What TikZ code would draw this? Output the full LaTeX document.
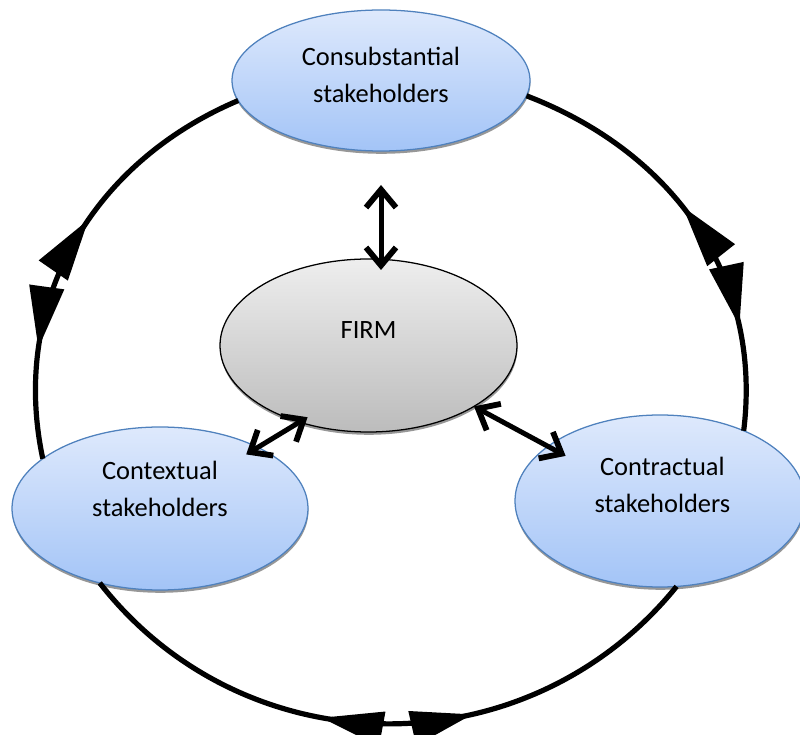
\documentclass[tikz,border=0pt]{standalone}
\usepackage{fontspec}
\setmainfont{Carlito}
\usepackage{tikz}
\usetikzlibrary{arrows.meta, decorations.markings, shadows, shapes.geometric}
\definecolor{stakeTop}{RGB}{222,233,252}
\definecolor{stakeBot}{RGB}{163,196,247}
\definecolor{stakeLine}{RGB}{79,129,189}
\definecolor{firmTop}{RGB}{238,238,238}
\definecolor{firmBot}{RGB}{188,188,188}
\tikzset{
  bigtip/.tip={Triangle[length=1.55cm,width=0.85cm]},
  barb/.tip={Straight Barb[length=0.45cm,width=0.75cm,line width=0.145cm,line cap=butt]},
  stake/.style={ellipse, draw=stakeLine, line width=0.9pt, top color=stakeTop, bottom color=stakeBot, outer sep=0pt,
    drop shadow={shadow xshift=0.01cm, shadow yshift=-0.07cm, fill=black!45, opacity=0.9}},
  firmbox/.style={stake, draw=black, top color=firmTop, bottom color=firmBot},
  txt/.style={font=\fontsize{18.8}{26.3}\selectfont, align=center},
  dblarrow/.style={line width=0.125cm, barb-barb},
  bigarc/.style 2 args={line width=0.13cm, decoration={markings,
    mark=at position #1 with {\arrowreversed{bigtip}},
    mark=at position #2 with {\arrow{bigtip}}}, postaction={decorate}}
}
\begin{document}
\begin{tikzpicture}
\useasboundingbox (0,0) rectangle (20,18.35);
\node[stake, minimum width=7.45cm, minimum height=3.525cm] (cons) at (9.525,16.3375) {};
\node[firmbox, minimum width=7.425cm, minimum height=4.325cm] (firm) at (9.2125,9.7125) {};
\node[stake, minimum width=7.4cm, minimum height=4.075cm] (ctx) at (4.0,5.6375) {};
\node[stake, minimum width=7.25cm, minimum height=4.3cm] (ctr) at (16.5,5.825) {};
\node[txt] (constext) at (cons) [yshift=0.14cm] {Consubstantial\\stakeholders};
\node[txt] (firmtext) at (firm) [yshift=0.39cm] {FIRM};
\node[txt] (ctxtext) at (ctx) [yshift=0.49cm] {Contextual\\stakeholders};
\node[txt] (ctrtext) at (ctr) [xshift=0.06cm,yshift=0.4cm] {Contractual\\stakeholders};
\draw[bigarc={0.436}{0.75}] (cons.188) to[out=203,in=102] (ctx.157);
\draw[bigarc={0.448}{0.757}] (cons.354) to[out=-21,in=83] (ctr.40);
\draw[bigarc={0.40}{0.63}, looseness=1.05] (ctx.231) to[out=-52,in=231] (ctr.281);
\draw[dblarrow, shorten <=0.85cm, shorten >=-0.275cm] (cons.south) -- (cons.south |- firm.north);
\draw[dblarrow, shorten <=-0.235cm, shorten >=-0.34cm] (firm.228) -- (ctx.32);
\draw[dblarrow, shorten >=-0.5cm] (firm.330) -- (ctr.154);
\end{tikzpicture}
\end{document}
